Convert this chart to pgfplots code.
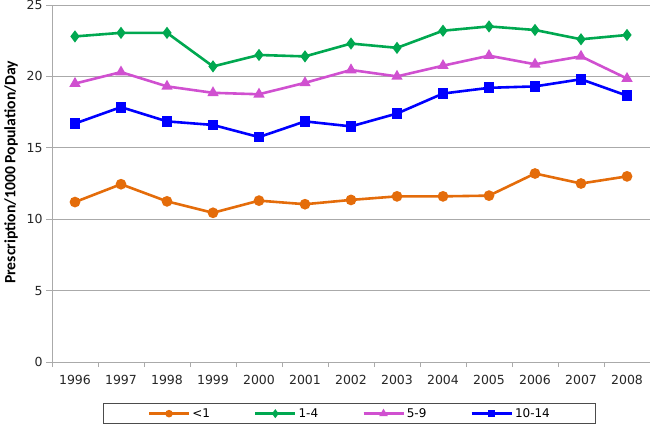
\documentclass[border=0pt]{standalone}
\usepackage{pgfplots}
\pgfplotsset{compat=1.18}
\usepackage{fontspec}
\setmainfont{DejaVu Sans}
\newfontfamily\labfont{Carlito}
\definecolor{cOrange}{RGB}{228,108,10}
\definecolor{cGreen}{RGB}{0,168,80}
\definecolor{cMag}{RGB}{208,80,208}
\definecolor{cBlue}{RGB}{0,0,255}
\definecolor{cGrid}{RGB}{170,170,170}
\begin{document}
\begin{tikzpicture}
\useasboundingbox (-52pt,-67pt) rectangle (598pt,362pt);
\begin{axis}[
  at={(0pt,0pt)}, anchor=south west,
  scale only axis, width=598pt, height=357pt,
  xmin=-0.5, xmax=12.5, ymin=0, ymax=25,
  axis x line*=bottom, axis y line*=left,
  axis line style={cGrid, line width=0.8pt},
  xtick={0,...,12},
  xticklabels={1996,1997,1998,1999,2000,2001,2002,2003,2004,2005,2006,2007,2008},
  major x tick style={draw=none},
  minor xtick={-0.5,0.5,...,12.5},
  minor x tick style={cGrid, line width=0.8pt},
  minor tick length=5pt,
  ytick={0,5,...,25},
  major y tick style={cGrid, line width=0.8pt},
  major tick length=6pt,
  tick align=outside,
  ymajorgrids,
  grid style={cGrid, line width=0.8pt},
  tick label style={font=\fontsize{12.5}{14}\selectfont, text=black!85},
  xticklabel style={yshift=-4pt},
  /pgf/number format/assume math mode=true,
  ylabel={Prescription/1000 Population/Day},
  every axis y label/.style={at={(axis description cs:-0.0686,0.531)}, rotate=90, anchor=center, font=\labfont\bfseries\fontsize{15.7}{17}\selectfont},
  legend columns=4,
  legend style={at={(axis description cs:0.498,-0.115)}, anchor=north, draw=black!70, line width=0.8pt,
    font=\fontsize{12}{13}\selectfont, inner xsep=44pt, inner ysep=3pt,
    /tikz/every even column/.append style={column sep=42pt}},
  legend image code/.code={\draw[mark repeat=2,mark phase=2,mark options={scale=0.6}] plot coordinates {(0pt,0pt)(20pt,0pt)(40pt,0pt)};},
  every axis plot/.append style={line width=2.6pt},
]
\addplot[cOrange, mark=*, mark size=4pt, mark options={solid}] coordinates {
(0,11.2)(1,12.45)(2,11.25)(3,10.45)(4,11.3)(5,11.05)(6,11.35)(7,11.6)(8,11.6)(9,11.65)(10,13.2)(11,12.5)(12,13.0)};
\addlegendentry{<1}
\addplot[cGreen, mark=diamond*, mark size=4pt] coordinates {
(0,22.8)(1,23.05)(2,23.05)(3,20.7)(4,21.5)(5,21.4)(6,22.3)(7,22.0)(8,23.2)(9,23.5)(10,23.25)(11,22.6)(12,22.9)};
\addlegendentry{1-4}
\addplot[cMag, mark=triangle*, mark size=4pt] coordinates {
(0,19.5)(1,20.3)(2,19.3)(3,18.85)(4,18.75)(5,19.55)(6,20.45)(7,20.0)(8,20.75)(9,21.45)(10,20.85)(11,21.4)(12,19.85)};
\addlegendentry{5-9}
\addplot[cBlue, mark=square*, mark size=4.1pt] coordinates {
(0,16.7)(1,17.85)(2,16.85)(3,16.6)(4,15.75)(5,16.85)(6,16.5)(7,17.4)(8,18.8)(9,19.2)(10,19.3)(11,19.8)(12,18.65)};
\addlegendentry{10-14}
\end{axis}
\end{tikzpicture}
\end{document}
